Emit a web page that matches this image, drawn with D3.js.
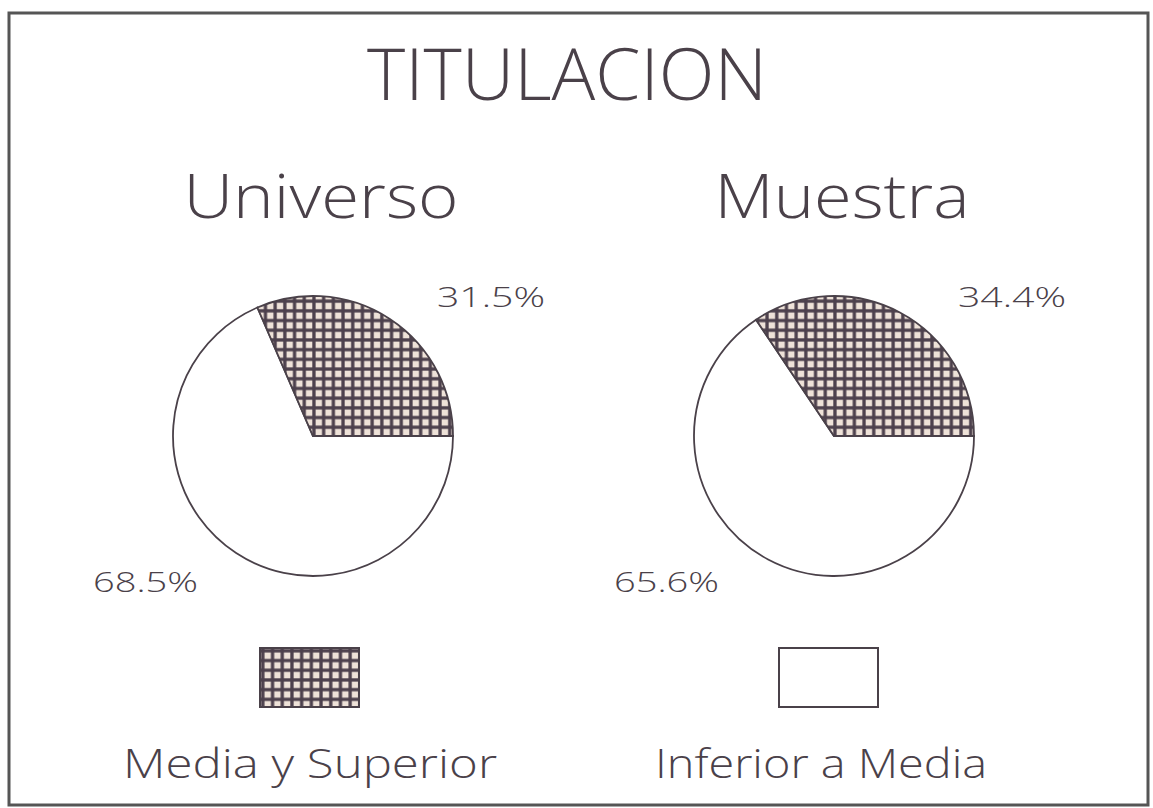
<!DOCTYPE html>
<html><head><meta charset="utf-8">
<script src="https://cdn.jsdelivr.net/npm/d3@7"></script>
<style>
html,body{margin:0;padding:0;background:#fff;}
text{font-family:"Open Sans","DejaVu Sans",sans-serif;font-weight:300;fill:#4a4149;}
</style></head>
<body><svg id="c" width="1153" height="808"></svg>
<script>
// ---- data ----
const title = "TITULACION";
const groups = ["Universo", "Muestra"];
const categories = ["Media y Superior", "Inferior a Media"];
const mediaSuperior = [31.5, 34.4];
const inferiorMedia = [68.5, 65.6];

const svg = d3.select("#c");
const ink = "#4a4149";

// pattern for "Media y Superior"
const defs = svg.append("defs");
const pat = defs.append("pattern").attr("id", "grid").attr("patternUnits", "userSpaceOnUse")
  .attr("width", 9.7).attr("height", 9.7);
pat.append("rect").attr("width", 9.7).attr("height", 9.7).attr("fill", "#4d414d");
pat.append("rect").attr("x", 2.6).attr("y", 2.6).attr("width", 6.4).attr("height", 6.4).attr("fill", "#eee2d8");

// frame
svg.append("rect").attr("x", 9).attr("y", 13).attr("width", 1139).attr("height", 792)
  .attr("fill", "none").attr("stroke", "#555").attr("stroke-width", 3);

// title
svg.append("text").attr("x", 567).attr("y", 100).attr("text-anchor", "middle")
  .attr("font-size", 72).attr("textLength", 400).attr("lengthAdjust", "spacingAndGlyphs")
  .text(title);

const centers = d3.scaleOrdinal().domain(groups).range([313, 834]);
const cy = 436, R = 140;
const fills = d3.scaleOrdinal().domain(categories).range(["url(#grid)", "#fff"]);

const pie = d3.pie().sort(null).value(d => d.v)
  .startAngle(Math.PI / 2).endAngle(Math.PI / 2 + 2 * Math.PI);
const arc = d3.arc().innerRadius(0).outerRadius(R);

groups.forEach((g, i) => {
  const cx = centers(g);
  svg.append("text").attr("x", cx + 8).attr("y", 218).attr("text-anchor", "middle")
    .attr("font-size", 60).attr("textLength", i === 0 ? 275 : 255).attr("lengthAdjust", "spacingAndGlyphs")
    .text(g);
  const data = [
    { c: categories[1], v: inferiorMedia[i] },
    { c: categories[0], v: mediaSuperior[i] }
  ];
  const gp = svg.append("g").attr("transform", `translate(${cx},${cy})`);
  gp.selectAll("path").data(pie(data)).join("path")
    .attr("d", arc).attr("fill", d => fills(d.data.c))
    .attr("stroke", ink).attr("stroke-width", 1.8);
  // labels
  svg.append("text").attr("x", cx + 124).attr("y", 307).attr("font-size", 27)
    .attr("textLength", 108).attr("lengthAdjust", "spacingAndGlyphs")
    .text(mediaSuperior[i].toFixed(1) + "%");
  svg.append("text").attr("x", cx - 220).attr("y", 592).attr("font-size", 27)
    .attr("textLength", 105).attr("lengthAdjust", "spacingAndGlyphs")
    .text(inferiorMedia[i].toFixed(1) + "%");
});

// legend
const legX = d3.scaleOrdinal().domain(categories).range([310, 829]);
categories.forEach((c, i) => {
  const x = legX(c);
  svg.append("rect").attr("x", x - 50).attr("y", 648).attr("width", 99).attr("height", 59)
    .attr("fill", fills(c)).attr("stroke", ink).attr("stroke-width", 2);
  svg.append("text").attr("x", i === 0 ? 310 : 821).attr("y", 778).attr("text-anchor", "middle")
    .attr("font-size", 40).attr("textLength", i === 0 ? 374 : 332).attr("lengthAdjust", "spacingAndGlyphs")
    .text(c);
});
</script></body></html>
